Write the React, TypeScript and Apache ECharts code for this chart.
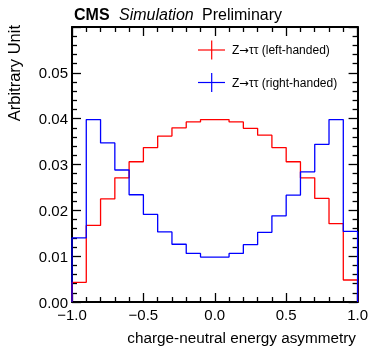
import React, { useEffect, useRef } from "react";
import * as echarts from "echarts";

// lower edges of the 20 bins (bin width 0.1)
const binEdges = [-1.0, -0.9, -0.8, -0.7, -0.6, -0.5, -0.4, -0.3, -0.2, -0.1, 0.0, 0.1, 0.2, 0.3, 0.4, 0.5, 0.6, 0.7, 0.8, 0.9];
const xMax = 1.0;

const leftHanded = [0.0043, 0.0167, 0.0225, 0.0271, 0.0306, 0.0337, 0.0362, 0.0380, 0.0393, 0.0398, 0.0398, 0.0393, 0.0379, 0.0364, 0.0337, 0.0306, 0.0271, 0.0226, 0.0171, 0.0048];
const rightHanded = [0.0140, 0.0398, 0.0347, 0.0288, 0.0234, 0.0191, 0.0153, 0.0126, 0.0106, 0.0098, 0.0098, 0.0106, 0.0125, 0.0152, 0.0188, 0.0233, 0.0284, 0.0344, 0.0398, 0.0154];

const seriesNames = ["Z\u2192\u03c4\u03c4 (left-handed)", "Z\u2192\u03c4\u03c4 (right-handed)"];
const seriesColors = ["#ff0000", "#0000ff"];

const xTitle = "charge-neutral energy asymmetry";
const yTitle = "Arbitrary Unit";

const FONT = "'Liberation Sans', Arial, Helvetica, sans-serif";

function stepData(vals: number[]) {
  const pts: number[][] = [[binEdges[0], 0]];
  binEdges.forEach((e, i) => pts.push([e, vals[i]]));
  pts.push([xMax, vals[vals.length - 1]]);
  pts.push([xMax, 0]);
  return pts;
}

// split "Z→ττ (...)" so the arrow can use a font that has a full-size glyph
function richLabel(name: string) {
  const [pre, post] = name.split("\u2192");
  return `{t|${pre}}{arr|\u2192}{t|${post}}`;
}

export default function App() {
  const ref = useRef<HTMLDivElement>(null);
  useEffect(() => {
    if (!ref.current) return;
    const chart = echarts.init(ref.current, null, { renderer: "svg" });
    const axisLine = { show: true, onZero: false, lineStyle: { color: "#000", width: 2 } };
    const tick = { show: true, inside: true, length: 9, lineStyle: { color: "#000", width: 1.3 } };
    const minorTick = { show: true, splitNumber: 5, length: 5, lineStyle: { color: "#000", width: 1.3 } };
    const legendGraphics: any[] = [];
    [50, 82.5].forEach((y, i) => {
      legendGraphics.push({
        type: "line",
        shape: { x1: 198, y1: y, x2: 225, y2: y },
        style: { stroke: seriesColors[i], lineWidth: 1.2 },
      });
      legendGraphics.push({
        type: "line",
        shape: { x1: 211.7, y1: y - 9.5, x2: 211.7, y2: y + 9.5 },
        style: { stroke: seriesColors[i], lineWidth: 1.2 },
      });
      legendGraphics.push({
        type: "text",
        x: 232,
        y: y,
        style: {
          text: richLabel(seriesNames[i]),
          fill: "#000",
          textAlign: "left",
          textVerticalAlign: "middle",
          rich: {
            t: { fontFamily: FONT, fontSize: 12, fill: "#000", color: "#000" },
            arr: { fontFamily: "'DejaVu Sans'", fontSize: 11.5, fill: "#000", color: "#000" },
          },
        },
      });
    });
    chart.setOption({
      animation: false,
      textStyle: { fontFamily: FONT },
      grid: { left: 72, right: 11, top: 27, bottom: 44, containLabel: false },
      xAxis: [
        {
          type: "value",
          min: -1,
          max: 1,
          interval: 0.5,
          axisLine,
          axisTick: tick,
          minorTick,
          splitLine: { show: false },
          axisLabel: {
            color: "#000",
            fontSize: 15,
            margin: 5,
            formatter: (v: number) => (v < 0 ? "\u2212" : "") + Math.abs(v).toFixed(1),
          },
        },
        {
          type: "value",
          position: "top",
          min: -1,
          max: 1,
          interval: 0.5,
          axisLine,
          axisTick: tick,
          minorTick,
          splitLine: { show: false },
          axisLabel: { show: false },
        },
      ],
      yAxis: [
        {
          type: "value",
          min: 0,
          max: 0.06,
          interval: 0.01,
          axisLine,
          axisTick: tick,
          minorTick,
          splitLine: { show: false },
          axisLabel: {
            color: "#000",
            fontSize: 15,
            margin: 4,
            showMaxLabel: false,
            formatter: (v: number) => v.toFixed(2),
          },
        },
        {
          type: "value",
          position: "right",
          min: 0,
          max: 0.06,
          interval: 0.01,
          axisLine,
          axisTick: tick,
          minorTick,
          splitLine: { show: false },
          axisLabel: { show: false },
        },
      ],
      series: [leftHanded, rightHanded].map((vals, i) => ({
        type: "line",
        name: seriesNames[i],
        step: "end",
        data: stepData(vals),
        showSymbol: false,
        clip: false,
        lineStyle: { color: seriesColors[i], width: 1.3 },
        itemStyle: { color: seriesColors[i] },
        z: 3,
      })),
      graphic: [
        { type: "text", x: 74, y: 14, style: { text: "CMS", font: `bold 16px ${FONT}`, fill: "#000", textVerticalAlign: "middle" } },
        { type: "text", x: 119, y: 14, style: { text: "Simulation", font: `italic 16px ${FONT}`, fill: "#000", textVerticalAlign: "middle" } },
        { type: "text", x: 202, y: 14, style: { text: "Preliminary", font: `16px ${FONT}`, fill: "#000", textVerticalAlign: "middle" } },
        { type: "text", x: 356, y: 337, style: { text: xTitle, font: `15.3px ${FONT}`, fill: "#000", textAlign: "right", textVerticalAlign: "middle" } },
        { type: "text", x: 14, y: 25, rotation: Math.PI / 2, style: { text: yTitle, font: `16.5px ${FONT}`, fill: "#000", textAlign: "right", textVerticalAlign: "middle" } },
        ...legendGraphics,
      ],
    });
    return () => chart.dispose();
  }, []);
  return <div ref={ref} style={{ position: "fixed", left: 0, top: 0, width: 371, height: 346 }} />;
}
